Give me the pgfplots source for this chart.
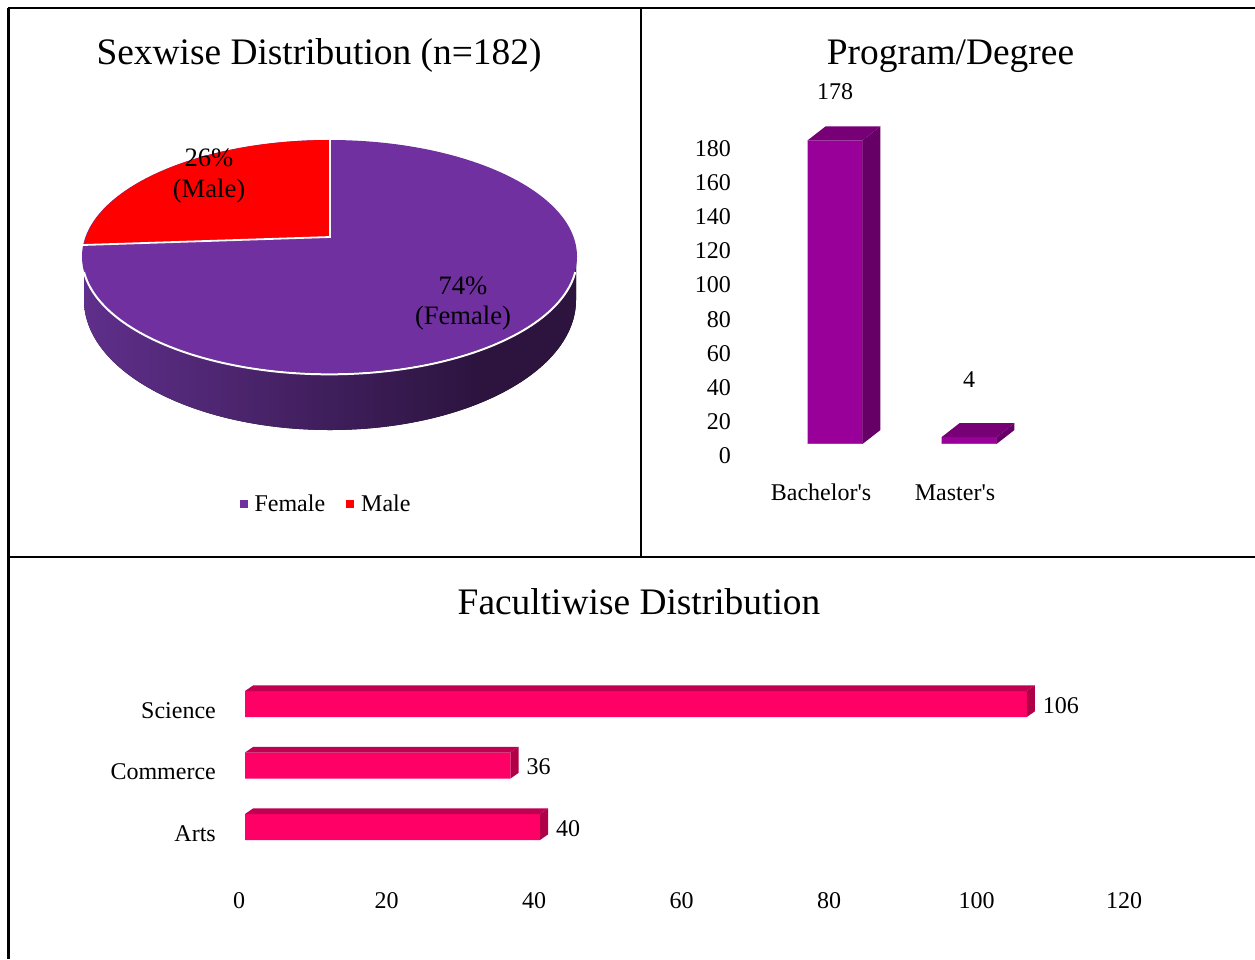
\documentclass[border=0pt]{standalone}
\usepackage{pgfplots}
\pgfplotsset{compat=1.18}
\usepackage{fontspec}
\setmainfont{Liberation Serif}
\newfontfamily\plainf{Liberation Serif}
\definecolor{pietop}{HTML}{7030A0}
\definecolor{pieA}{HTML}{5F2F8B}
\definecolor{pieB}{HTML}{2C143F}
\definecolor{purF}{HTML}{990099}
\definecolor{purT}{HTML}{770077}
\definecolor{purS}{HTML}{660066}
\definecolor{purL}{HTML}{B030B0}
\definecolor{pinkF}{HTML}{FF0066}
\definecolor{pinkT}{HTML}{C00050}
\definecolor{pinkS}{HTML}{B00048}
\pgfdeclarehorizontalshading{pieside}{100bp}{color(0bp)=(pieA); color(25bp)=(pieA); color(65bp)=(pieB); color(100bp)=(pieB)}
\newcommand{\fs}[1]{\fontsize{#1}{#1}\selectfont}
\begin{document}
\begin{tikzpicture}
\path[use as bounding box] (0,0) rectangle (1255pt,959pt);
% page axis: pie, titles, frame
\begin{axis}[
  at={(0pt,0pt)}, anchor=south west, scale only axis,
  width=1255pt, height=959pt, xmin=0, xmax=1255, ymin=0, ymax=959,
  y dir=reverse, hide axis, clip=false,
  legend columns=2,
  legend style={at={(axis cs:327,504)}, anchor=center, draw=none, fill=none,
    font=\fs{24}, inner sep=0pt, outer sep=0pt,
    nodes={inner xsep=3.5pt},
    /tikz/column 1/.style={column sep=4pt},
    /tikz/column 3/.style={column sep=4pt},
    /tikz/column 2/.style={column sep=18pt}},
]
\fill[shading=pieside] (axis cs:84,256) -- (axis cs:84,300)
   arc[start angle=180,end angle=360,x radius=246pt,y radius=130pt] -- (axis cs:576,256) -- cycle;
\fill[pietop] (axis cs:329.5,256.5) ellipse[x radius=247.5pt,y radius=116.5pt];
\draw[white,line width=2pt] (axis cs:84,272)
   arc[start angle=187,end angle=353,x radius=247.5pt,y radius=116.5pt];
\fill[red] (axis cs:330,237) -- (axis cs:330,140)
   arc[start angle=90,end angle=174.3,x radius=247.5pt,y radius=116.5pt] -- cycle;
\draw[white,line width=1.8pt] (axis cs:330,140) -- (axis cs:330,237) -- (axis cs:83,245);
\node[font=\fs{26.6}] at (axis cs:209,158) {26\%};
\node[font=\fs{26.6}] at (axis cs:209,191) {(Male)};
\node[font=\fs{26.6}] at (axis cs:463,286) {74\%};
\node[font=\fs{26.6}] at (axis cs:463,318) {(Female)};
\node[font=\fs{37.4}] at (axis cs:319,56) {Sexwise Distribution (n=182)};
\node[font=\fs{37.4}] at (axis cs:950.5,56) {Program/Degree};
\node[font=\fs{37.4}] at (axis cs:639,602) {Facultiwise Distribution};
\addlegendimage{only marks,mark=square*,mark size=3.5pt,color=pietop}
\addlegendentry{Female}
\addlegendimage{only marks,mark=square*,mark size=3.5pt,color=red}
\addlegendentry{Male}
% frame
\draw[black,line width=1.2pt] (axis cs:8,8) -- (axis cs:1255,8);
\draw[black,line width=2.6pt] (axis cs:614,8) -- (axis cs:657,8);
\draw[black,line width=2.4pt] (axis cs:8.5,8) -- (axis cs:8.5,959);
\draw[black,line width=2.4pt] (axis cs:641,8) -- (axis cs:641,557);
\draw[black,line width=1.2pt] (axis cs:8,557) -- (axis cs:1255,557);
\draw[black,line width=2.6pt] (axis cs:8,557) -- (axis cs:25,557);
\end{axis}
% program / degree
\begin{axis}[
  at={(768pt,515pt)}, anchor=south west, scale only axis,
  width=268pt, height=307pt, xmin=-0.5, xmax=1.5, ymin=0, ymax=180, clip=false,
  axis line style={draw=none}, tick style={draw=none}, major tick length=0pt,
  /pgf/number format/assume math mode=true,
  ytick={0,20,...,180}, xtick={0,1}, xticklabels={{\plainf Bachelor's},{\plainf Master's}},
  ticklabel style={font=\fs{24},inner sep=0pt},
  yticklabel style={anchor=east,xshift=-37pt,yshift=-11.6pt},
  xticklabel style={anchor=center,xshift=-14pt,yshift=-48pt,text height=17pt,text depth=0pt},
]
\addplot[ybar,bar width=55pt,fill=purF,draw=none] coordinates {(0,178) (1,4)};
% bar 1 top and side
\addplot[fill=purT,draw=none] coordinates {(-0.205,178) (0.205,178) (0.339,186.2) (-0.071,186.2)} --cycle;
\addplot[fill=purS,draw=none] coordinates {(0.205,0) (0.339,8.2) (0.339,186.2) (0.205,178)} --cycle;
% bar 2 top and side
\addplot[fill=purT,draw=none] coordinates {(0.795,4) (1.205,4) (1.339,12.2) (0.929,12.2)} --cycle;
\addplot[fill=purS,draw=none] coordinates {(1.205,0) (1.339,8.2) (1.339,12.2) (1.205,4)} --cycle;
\addplot[purL,line width=1.5pt] coordinates {(-0.205,0.4) (0.205,0.4)};
\addplot[purL,line width=1.5pt] coordinates {(0.795,0.4) (1.205,0.4)};
\node[font=\fs{24}] at (axis cs:0,206.8) {178};
\node[font=\fs{24}] at (axis cs:1,37.5) {4};
\end{axis}
% faculty
\begin{axis}[
  at={(245pt,101.25pt)}, anchor=south west, scale only axis,
  width=885pt, height=184.5pt, xmin=0, xmax=120, ymin=-0.5, ymax=2.5, clip=false,
  axis line style={draw=none}, tick style={draw=none}, major tick length=0pt,
  /pgf/number format/assume math mode=true,
  xtick={0,20,...,120}, ytick={0,1,2}, yticklabels={Arts,Commerce,Science},
  ticklabel style={font=\fs{24},inner sep=0pt},
  yticklabel style={anchor=east,xshift=-29pt,yshift=-6.2pt},
  xticklabel style={anchor=center,xshift=-6pt,yshift=-43pt},
]
\addplot[xbar,bar width=26pt,fill=pinkF,draw=none,point meta=x,
  nodes near coords,
  every node near coord/.append style={font=\fs{24},anchor=west,inner sep=0pt,xshift=16pt,yshift=-1.5pt,text=black}]
  coordinates {(40,0) (36,1) (106,2)};
% tops
\addplot[fill=pinkT,draw=none] coordinates {(0,0.211) (40,0.211) (41.085,0.301) (1.085,0.301)} --cycle;
\addplot[fill=pinkT,draw=none] coordinates {(0,1.211) (36,1.211) (37.085,1.301) (1.085,1.301)} --cycle;
\addplot[fill=pinkT,draw=none] coordinates {(0,2.211) (106,2.211) (107.085,2.301) (1.085,2.301)} --cycle;
% sides
\addplot[fill=pinkS,draw=none] coordinates {(40,-0.211) (41.085,-0.121) (41.085,0.301) (40,0.211)} --cycle;
\addplot[fill=pinkS,draw=none] coordinates {(36,0.789) (37.085,0.879) (37.085,1.301) (36,1.211)} --cycle;
\addplot[fill=pinkS,draw=none] coordinates {(106,1.789) (107.085,1.879) (107.085,2.301) (106,2.211)} --cycle;
\end{axis}
\end{tikzpicture}
\end{document}
